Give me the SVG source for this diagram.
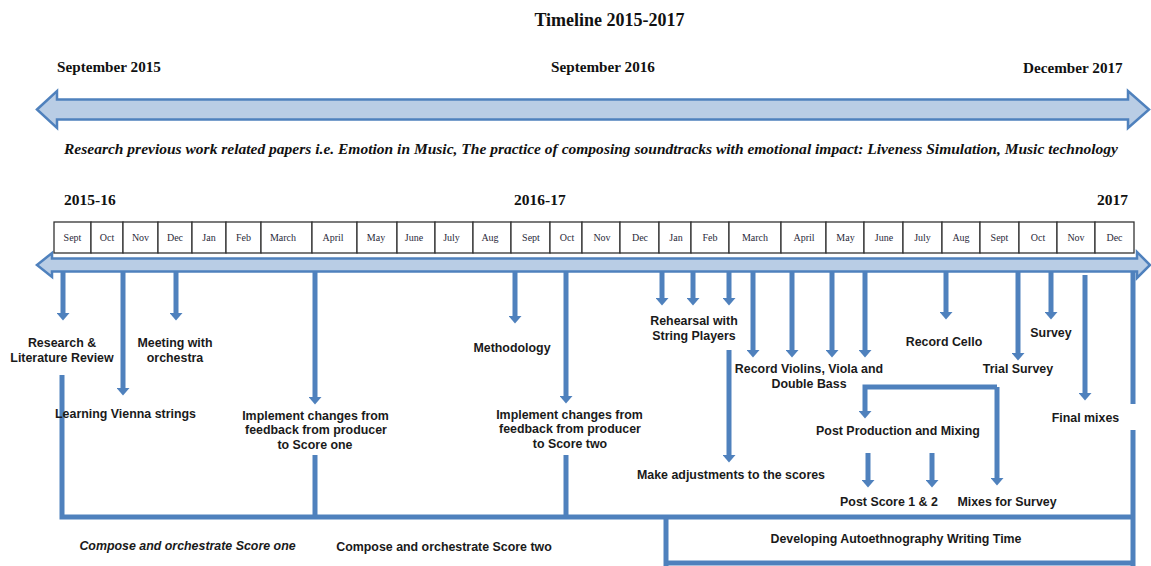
<svg xmlns="http://www.w3.org/2000/svg" width="1151" height="566" viewBox="0 0 1151 566">
<style>
.tb{font-family:"Liberation Serif","Times New Roman",serif;font-weight:bold;fill:#111}
.mo{font-family:"Liberation Serif","Times New Roman",serif;font-size:10px;fill:#2a2a3a;text-anchor:middle}
.lb{font-family:"Liberation Sans",Arial,sans-serif;font-weight:bold;font-size:12.4px;fill:#1a1a1a;text-anchor:middle}
.cell{fill:#fff;stroke:#333;stroke-width:1.3}
.big{fill:#b9cde5;stroke:#4f81bd;stroke-width:2.5;stroke-linejoin:miter}
.c{fill:none;stroke:#4f81bd;stroke-width:5}
.ca{fill:none;stroke:#4f81bd;stroke-width:5;marker-end:url(#ah)}
</style>
<defs>
<marker id="ah" markerUnits="userSpaceOnUse" markerWidth="8" markerHeight="13" viewBox="0 0 8 13" refX="1" refY="6.5" orient="auto">
<path d="M0,0 L7.5,6.5 L0,13 Z" fill="#4f81bd"/>
</marker>
</defs>

<g id="title">
<text class="tb" x="609.5" y="26" font-size="18" text-anchor="middle">Timeline 2015-2017</text>
<text class="tb" x="57" y="72" font-size="15.2">September 2015</text>
<text class="tb" x="551" y="72" font-size="15.2">September 2016</text>
<text class="tb" x="1023" y="73" font-size="15.2">December 2017</text>
</g>

<g id="top-arrow">
<path class="big" d="M37,109.5 L57,91 L57,99.5 L1128,99.5 L1128,91 L1149,109.5 L1128,128 L1128,119.5 L57,119.5 L57,128 Z"/>
<text class="tb" x="64" y="154" font-size="14.5" font-style="italic" textLength="1054" lengthAdjust="spacingAndGlyphs">Research previous work related papers i.e. Emotion in Music, The practice of composing soundtracks with emotional impact: Liveness Simulation, Music technology</text>
</g>

<g id="years">
<text class="tb" x="64" y="205" font-size="15.5">2015-16</text>
<text class="tb" x="514" y="205" font-size="15.5">2016-17</text>
<text class="tb" x="1097" y="205" font-size="15.5">2017</text>
</g>

<g id="lower-arrow">
<path class="big" d="M37,265 L52,253 L52,258.5 L1137,258.5 L1137,252 L1150,265 L1137,278 L1137,271.5 L52,271.5 L52,277 Z"/>
</g>

<g id="months">
<rect class="cell" x="54" y="222" width="37" height="31"/><text class="mo" x="72.5" y="241">Sept</text>
<rect class="cell" x="91" y="222" width="32" height="31"/><text class="mo" x="107" y="241">Oct</text>
<rect class="cell" x="123" y="222" width="35" height="31"/><text class="mo" x="140.5" y="241">Nov</text>
<rect class="cell" x="158" y="222" width="34" height="31"/><text class="mo" x="175" y="241">Dec</text>
<rect class="cell" x="192" y="222" width="34" height="31"/><text class="mo" x="209" y="241">Jan</text>
<rect class="cell" x="226" y="222" width="35" height="31"/><text class="mo" x="243.5" y="241">Feb</text>
<rect class="cell" x="261" y="222" width="51" height="31"/><text class="mo" x="283" y="241">March</text>
<rect class="cell" x="312" y="222" width="45" height="31"/><text class="mo" x="333" y="241">April</text>
<rect class="cell" x="357" y="222" width="40" height="31"/><text class="mo" x="376" y="241">May</text>
<rect class="cell" x="397" y="222" width="38" height="31"/><text class="mo" x="414" y="241">June</text>
<rect class="cell" x="435" y="222" width="38" height="31"/><text class="mo" x="451.5" y="241">July</text>
<rect class="cell" x="473" y="222" width="38" height="31"/><text class="mo" x="490" y="241">Aug</text>
<rect class="cell" x="511" y="222" width="39" height="31"/><text class="mo" x="531" y="241">Sept</text>
<rect class="cell" x="550" y="222" width="32" height="31"/><text class="mo" x="567" y="241">Oct</text>
<rect class="cell" x="582" y="222" width="38" height="31"/><text class="mo" x="602" y="241">Nov</text>
<rect class="cell" x="620" y="222" width="39" height="31"/><text class="mo" x="640" y="241">Dec</text>
<rect class="cell" x="659" y="222" width="32" height="31"/><text class="mo" x="676" y="241">Jan</text>
<rect class="cell" x="691" y="222" width="38" height="31"/><text class="mo" x="710" y="241">Feb</text>
<rect class="cell" x="729" y="222" width="52" height="31"/><text class="mo" x="755" y="241">March</text>
<rect class="cell" x="781" y="222" width="45" height="31"/><text class="mo" x="804" y="241">April</text>
<rect class="cell" x="826" y="222" width="38" height="31"/><text class="mo" x="845.5" y="241">May</text>
<rect class="cell" x="864" y="222" width="39" height="31"/><text class="mo" x="884" y="241">June</text>
<rect class="cell" x="903" y="222" width="39" height="31"/><text class="mo" x="922.5" y="241">July</text>
<rect class="cell" x="942" y="222" width="38" height="31"/><text class="mo" x="961" y="241">Aug</text>
<rect class="cell" x="980" y="222" width="39" height="31"/><text class="mo" x="999.5" y="241">Sept</text>
<rect class="cell" x="1019" y="222" width="38" height="31"/><text class="mo" x="1038" y="241">Oct</text>
<rect class="cell" x="1057" y="222" width="38" height="31"/><text class="mo" x="1076" y="241">Nov</text>
<rect class="cell" x="1095" y="222" width="39" height="31"/><text class="mo" x="1114.5" y="241">Dec</text>
</g>

<g id="connectors">
<line class="ca" x1="63" y1="272" x2="63" y2="314"/>
<line class="ca" x1="123" y1="272" x2="123" y2="389"/>
<line class="ca" x1="176" y1="272" x2="176" y2="314"/>
<line class="ca" x1="315" y1="272" x2="315" y2="398"/>
<line class="ca" x1="515" y1="272" x2="515" y2="317"/>
<line class="ca" x1="566" y1="272" x2="566" y2="397"/>
<line class="ca" x1="662" y1="272" x2="662" y2="299"/>
<line class="ca" x1="693" y1="272" x2="693" y2="299"/>
<line class="ca" x1="729" y1="272" x2="729" y2="299"/>
<line class="ca" x1="753" y1="272" x2="753" y2="351"/>
<line class="ca" x1="792" y1="272" x2="792" y2="351"/>
<line class="ca" x1="832" y1="272" x2="832" y2="351"/>
<line class="ca" x1="865" y1="272" x2="865" y2="351"/>
<line class="ca" x1="946" y1="272" x2="946" y2="313"/>
<line class="ca" x1="1018" y1="272" x2="1018" y2="354"/>
<line class="ca" x1="1051" y1="272" x2="1051" y2="313"/>
<line class="ca" x1="1085" y1="275" x2="1085" y2="394"/>
<line class="ca" x1="729" y1="350" x2="729" y2="456"/>
<path class="ca" d="M997,387 L865,387 L865,412"/>
<line class="ca" x1="997" y1="387" x2="997" y2="479"/>
<line class="ca" x1="868" y1="453" x2="868" y2="481"/>
<line class="ca" x1="932" y1="453" x2="932" y2="481"/>
<path class="c" d="M62,375 L62,517 L1133,517"/>
<line class="c" x1="315" y1="455" x2="315" y2="517"/>
<line class="c" x1="566" y1="455" x2="566" y2="517"/>
<line class="c" x1="1133" y1="272" x2="1133" y2="566"/>
<path class="c" d="M666,517 L666,566"/>
<line class="c" x1="666" y1="563" x2="1133" y2="563"/>
</g>

<g id="n-research"><text class="lb" x="62" y="347">Research &amp;</text><text class="lb" x="62" y="362">Literature Review</text></g>
<g id="n-meeting"><text class="lb" x="175" y="347">Meeting with</text><text class="lb" x="175" y="362">orchestra</text></g>
<g id="n-vienna"><text class="lb" x="125.5" y="418">Learning Vienna strings</text></g>
<g id="n-impl1"><text class="lb" x="315.5" y="420">Implement changes from</text><text class="lb" x="316" y="434">feedback from producer</text><text class="lb" x="315" y="449">to Score one</text></g>
<g id="n-method"><text class="lb" x="512" y="352">Methodology</text></g>
<g id="n-impl2"><text class="lb" x="569.5" y="419">Implement changes from</text><text class="lb" x="570" y="433">feedback from producer</text><text class="lb" x="570" y="448">to Score two</text></g>
<g id="n-rehearsal"><text class="lb" x="694" y="325">Rehearsal with</text><text class="lb" x="694" y="340">String Players</text></g>
<g id="n-violins"><text class="lb" x="809" y="373">Record Violins, Viola and</text><text class="lb" x="809" y="388">Double Bass</text></g>
<g id="n-cello"><text class="lb" x="944" y="346">Record Cello</text></g>
<g id="n-trial"><text class="lb" x="1018" y="373">Trial Survey</text></g>
<g id="n-survey"><text class="lb" x="1051" y="337">Survey</text></g>
<g id="n-final"><rect x="1047" y="404" width="90" height="26" fill="#fff"/><text class="lb" x="1085.5" y="422">Final mixes</text></g>
<g id="n-postprod"><text class="lb" x="898" y="435">Post Production and Mixing</text></g>
<g id="n-adjust"><text class="lb" x="731" y="479">Make adjustments to the scores</text></g>
<g id="n-postscore"><text class="lb" x="889" y="506">Post Score 1 &amp; 2</text></g>
<g id="n-mixes"><text class="lb" x="1007" y="506">Mixes for Survey</text></g>
<g id="n-compose1"><text class="lb" x="187.5" y="550" font-style="italic">Compose and orchestrate Score one</text></g>
<g id="n-compose2"><text class="lb" x="444" y="551">Compose and orchestrate Score two</text></g>
<g id="n-auto"><text class="lb" x="896" y="543">Developing Autoethnography Writing Time</text></g>
</svg>
